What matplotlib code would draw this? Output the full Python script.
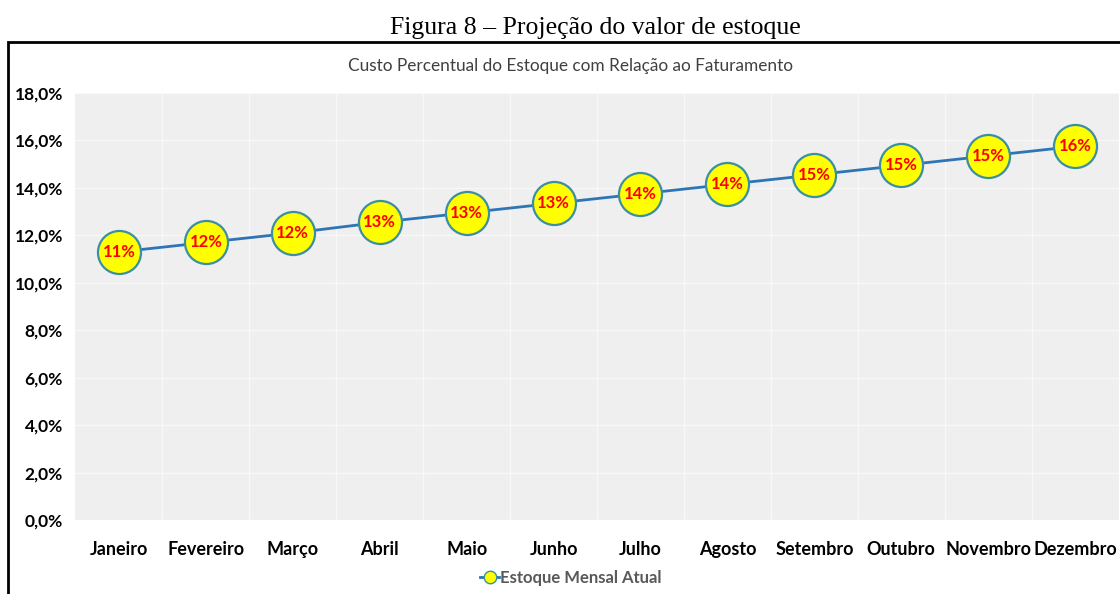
import matplotlib.pyplot as plt
from matplotlib.patches import Rectangle
from matplotlib.lines import Line2D

meses = ["Janeiro", "Fevereiro", "Março", "Abril", "Maio", "Junho", "Julho",
         "Agosto", "Setembro", "Outubro", "Novembro", "Dezembro"]
custo = [11.3, 11.7, 12.1, 12.55, 12.95, 13.35, 13.75, 14.15, 14.55, 14.95, 15.35, 15.75]
yticks = [0, 2, 4, 6, 8, 10, 12, 14, 16, 18]
ytick_labels = ["0,0%", "2,0%", "4,0%", "6,0%", "8,0%", "10,0%", "12,0%", "14,0%", "16,0%", "18,0%"]

plt.rcParams['font.family'] = ['Lato', 'DejaVu Sans']

fig = plt.figure(figsize=(11.2, 5.94), dpi=100)
ax = fig.add_axes([0.0674, 0.1246, 0.9313, 0.7188])

x = range(len(meses))
ax.set_facecolor('#EFEFEF')
ax.plot(x, custo, color='#2E75B6', lw=2, marker='o', ms=31,
        mfc='#FFFF00', mec='#3A8FA0', mew=1.6, zorder=3)
for xi, v in zip(x, custo):
    ax.text(xi, v, f"{v:.0f}%", ha='center', va='center', color='#FF0000',
            fontsize=12, fontweight='bold', zorder=4)

ax.set_xlim(-0.5, len(meses) - 0.5)
ax.set_ylim(0, 18)
ax.set_yticks(yticks)
ax.set_yticklabels(ytick_labels)
ax.set_xticks(list(x))
ax.set_xticklabels(meses)
ax.tick_params(length=0, labelsize=13, colors='black', pad=15)
ax.tick_params(axis='y', labelsize=12.5, pad=9)
for lab in ax.get_xticklabels() + ax.get_yticklabels():
    lab.set_fontweight('bold')
ax.set_xticks([i + 0.5 for i in x], minor=True)
ax.grid(True, which='major', axis='y', color='#F8F8F8', lw=1)
ax.grid(True, which='minor', axis='x', color='#F8F8F8', lw=1)
ax.tick_params(which='minor', length=0)
for s in ax.spines.values():
    s.set_visible(False)

fig.text(0.509, 0.889, "Custo Percentual do Estoque com Relação ao Faturamento",
         ha='center', va='center', fontsize=12.4, color='#404040')
fig.text(0.532, 0.953, "Figura 8 – Projeção do valor de estoque",
         ha='center', va='center', fontsize=18.5, family='Liberation Serif')

# legenda
h = Line2D([], [], color='#2E75B6', lw=2, marker='o', ms=9,
           mfc='#FFFF00', mec='#3A8FA0')
fig.legend([h], ["Estoque Mensal Atual"], loc='center', bbox_to_anchor=(0.51, 0.027),
           frameon=False, handlelength=1.1, handletextpad=0.1,
           prop={'size': 12, 'weight': 'bold'}, labelcolor='#595959')

fig.patches.append(Rectangle((8 / 1120, -0.1), 1.2, 1.1 - 42 / 594, transform=fig.transFigure,
                             fill=False, ec='black', lw=2))

plt.savefig("out.png", dpi=100)
